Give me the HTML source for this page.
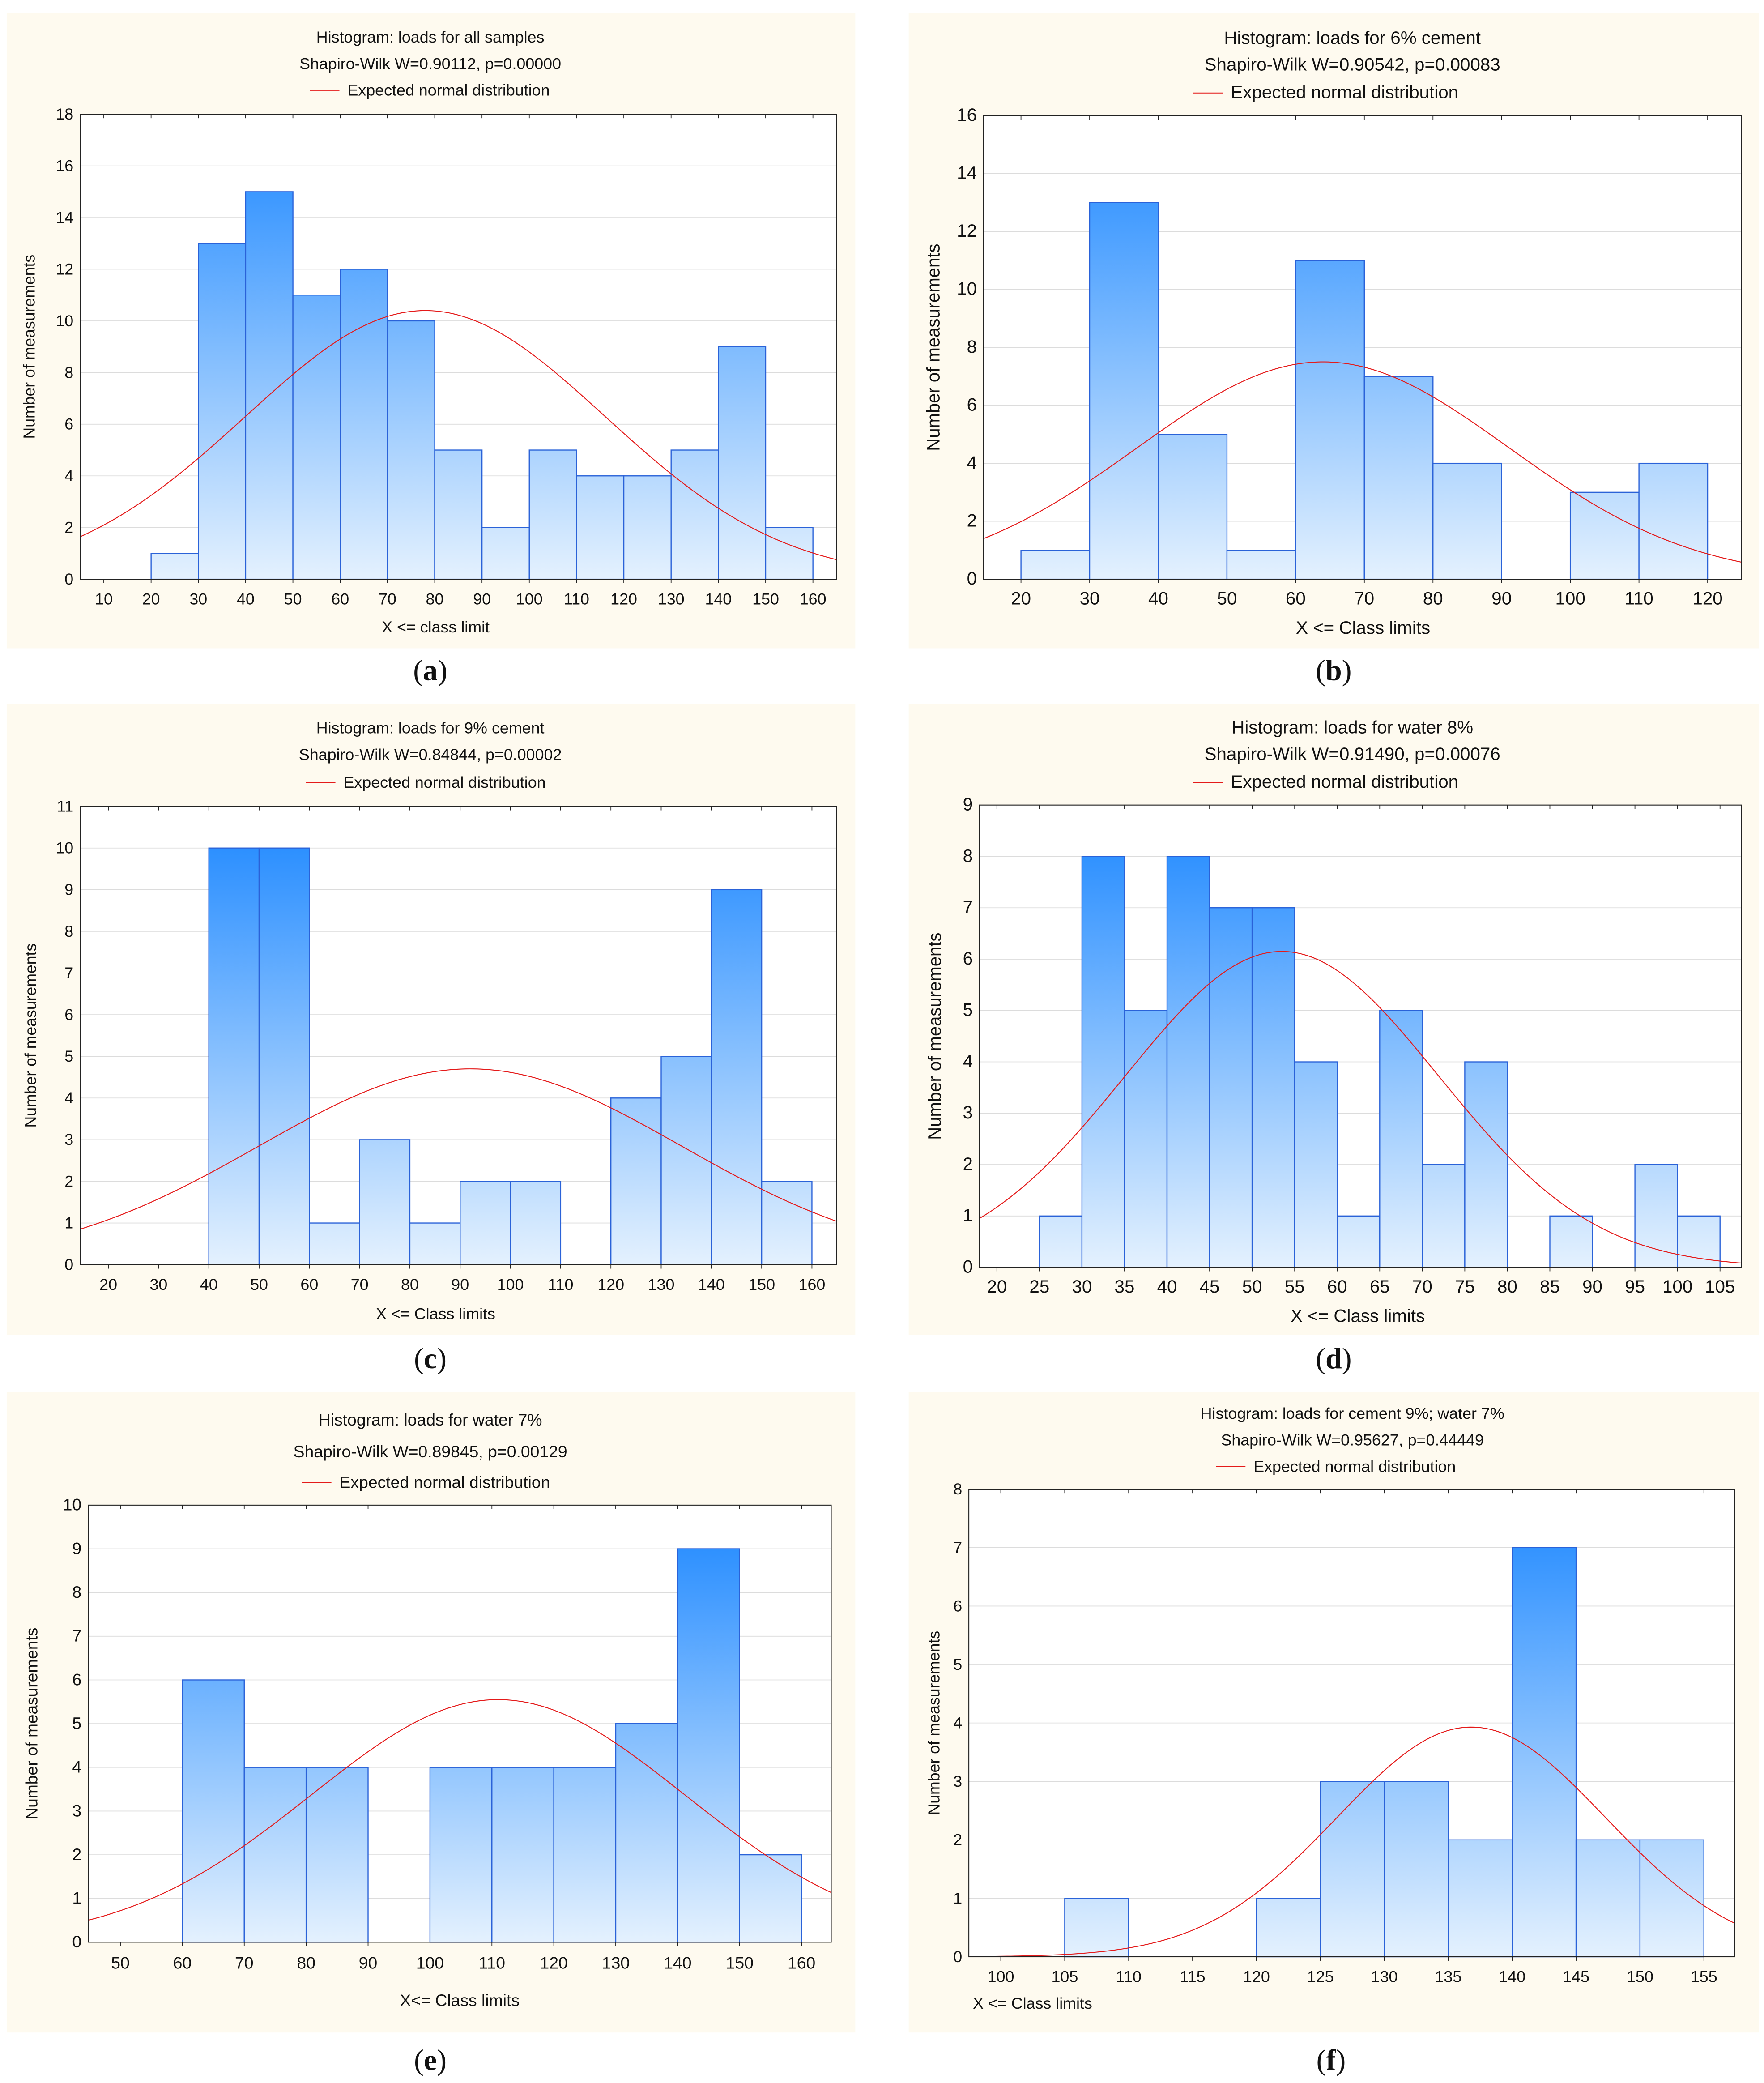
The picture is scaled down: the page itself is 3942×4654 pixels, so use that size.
<!DOCTYPE html>
<html><head><meta charset="utf-8"><style>
html,body{margin:0;padding:0;background:#fff;}
svg{display:block;}
text{font-family:"Liberation Sans",sans-serif;fill:#111;}
</style></head><body>
<svg id="fig" width="3942" height="4654" viewBox="0 0 1320 1568" preserveAspectRatio="none" xmlns="http://www.w3.org/2000/svg">
<defs>
<linearGradient id="g" x1="0" y1="0" x2="0" y2="1"><stop offset="0" stop-color="#1a86ff"/><stop offset="1" stop-color="#e4f1fe"/></linearGradient>
</defs>
</svg>
<script>
// Panel (a)
const binsA = [20,30,40,50,60,70,80,90,100,110,120,130,140,150];
const countsA = [1,13,15,11,12,10,5,2,5,4,4,5,9,2];
const xTicksA = [10,20,30,40,50,60,70,80,90,100,110,120,130,140,150,160];
const yTicksA = [0,2,4,6,8,10,12,14,16,18];
const normA = [78, 38, 10.4]; // mean, sd, peak
// Panel (b)
const binsB = [20,30,40,50,60,70,80,90,100,110];
const countsB = [1,13,5,1,11,7,4,0,3,4];
const xTicksB = [20,30,40,50,60,70,80,90,100,110,120];
const yTicksB = [0,2,4,6,8,10,12,14,16];
const normB = [64, 27, 7.5];
// Panel (c)
const binsC = [40,50,60,70,80,90,100,110,120,130,140,150];
const countsC = [10,10,1,3,1,2,2,0,4,5,9,2];
const xTicksC = [20,30,40,50,60,70,80,90,100,110,120,130,140,150,160];
const yTicksC = [0,1,2,3,4,5,6,7,8,9,10,11];
const normC = [92, 42, 4.7];
// Panel (d)
const binsD = [25,30,35,40,45,50,55,60,65,70,75,80,85,90,95,100];
const countsD = [1,8,5,8,7,7,4,1,5,2,4,0,1,0,2,1];
const xTicksD = [20,25,30,35,40,45,50,55,60,65,70,75,80,85,90,95,100,105];
const yTicksD = [0,1,2,3,4,5,6,7,8,9];
const normD = [53.5, 18.4, 6.15];
// Panel (e)
const binsE = [60,70,80,90,100,110,120,130,140,150];
const countsE = [6,4,4,0,4,4,4,5,9,2];
const xTicksE = [50,60,70,80,90,100,110,120,130,140,150,160];
const yTicksE = [0,1,2,3,4,5,6,7,8,9,10];
const normE = [111, 30.2, 5.55];
// Panel (f)
const binsF = [105,120,125,130,135,140,145,150];
const countsF = [1,1,3,3,2,7,2,2];
const xTicksF = [100,105,110,115,120,125,130,135,140,145,150,155];
const yTicksF = [0,1,2,3,4,5,6,7,8];
const normF = [136.8, 10.5, 3.93];

const NS = "http://www.w3.org/2000/svg";
const svg = document.getElementById('fig');
function mk(tag, attrs, parent){
  const e = document.createElementNS(NS, tag);
  for (const k in attrs) e.setAttribute(k, attrs[k]);
  (parent||svg).appendChild(e);
  return e;
}
function txt(s, x, y, size, anchor, parent){
  const t = mk('text', {x:x, y:y, 'font-size':size, 'text-anchor':anchor||'middle'}, parent);
  t.textContent = s;
  return t;
}

function drawPanel(id, L, bins, counts, binW, xTicks, yTicks, norm, titles, xlabel, caption){
  const g = mk('g', {});
  
  
  const bg = mk('rect', {x:L.bx, y:L.by, width:L.bw, height:L.bh, fill:'#fefaef'}, g);
  
  
  const pl = mk('rect', {x:L.px0, y:L.py0, width:L.px1-L.px0, height:L.py1-L.py0, fill:'#fff'}, g);
  
  
  const ymax = yTicks[yTicks.length-1];
  const xs = v => L.px0 + (v - L.d0)/(L.d1 - L.d0)*(L.px1-L.px0);
  const ys = v => L.py1 - v/ymax*(L.py1-L.py0);
  const gid = 'grad-' + id;
  const grad = mk('linearGradient', {id:gid, gradientUnits:'userSpaceOnUse', x1:0, y1:L.py0, x2:0, y2:L.py1}, svg.querySelector('defs'));
  mk('stop', {offset:0, 'stop-color':'#1a86ff'}, grad);
  mk('stop', {offset:1, 'stop-color':'#e4f1fe'}, grad);
  // grid + y ticks
  yTicks.forEach(v => {
    if (v > 0 && v < ymax) {
      const gl = mk('line', {x1:L.px0, x2:L.px1, y1:ys(v), y2:ys(v), stroke:'#dcdcdc', 'stroke-width':0.6}, g);
      
      
    }
    const t = txt(String(v), L.px0 - 5, ys(v) + 4, L.fs, 'end', g);
    
    
  });
  // bars
  bins.forEach((b, i) => {
    if (counts[i] <= 0) return;
    const r = mk('rect', {x:xs(b), y:ys(counts[i]), width:xs(b+binW)-xs(b), height:ys(0)-ys(counts[i]), fill:'url(#'+gid+')', stroke:'#2a62d8', 'stroke-width':0.8}, g);
    
    
  });
  // normal curve
  let d = '';
  const N = 200;
  for (let k = 0; k <= N; k++) {
    const v = L.d0 + (L.d1-L.d0)*k/N;
    const yv = norm[2]*Math.exp(-Math.pow(v-norm[0],2)/(2*norm[1]*norm[1]));
    d += (k ? 'L' : 'M') + xs(v).toFixed(2) + ',' + ys(yv).toFixed(2);
  }
  const c = mk('path', {d:d, fill:'none', stroke:'#e41a1a', 'stroke-width':0.7}, g);
  
  
  // frame
  const fr = mk('rect', {x:L.px0, y:L.py0, width:L.px1-L.px0, height:L.py1-L.py0, fill:'none', stroke:'#222', 'stroke-width':0.7}, g);
  
  
  // x ticks
  xTicks.forEach(v => {
    const tk = mk('line', {x1:xs(v), x2:xs(v), y1:L.py1, y2:L.py1+3, stroke:'#222', 'stroke-width':0.6}, g);
    
    
    const tk2 = mk('line', {x1:xs(v), x2:xs(v), y1:L.py0, y2:L.py0+3, stroke:'#222', 'stroke-width':0.6}, g);
    
    
    const t = txt(String(v), xs(v), L.xty, L.fs, 'middle', g);
    
    
  });
  // titles
  const t1 = txt(titles[0], L.tx, L.ty[0], L.fs, 'middle', g);
  
  
  const t2 = txt(titles[1], L.tx, L.ty[1], L.fs, 'middle', g);
  
  
  const lg = mk('line', {x1:L.lx, x2:L.lx+22, y1:L.ty[2]-4, y2:L.ty[2]-4, stroke:'#e41a1a', 'stroke-width':0.7}, g);
  
  
  const t3 = txt('Expected normal distribution', L.lx+28, L.ty[2], L.fs, 'start', g);
  
  
  // x label
  const xl = txt(xlabel, L.xlx, L.xly, L.fs, L.xla || 'middle', g);
  
  
  // y label
  const yc = (L.py0+L.py1)/2;
  const yl = txt('Number of measurements', 0, 0, L.fs, 'middle', g);
  yl.setAttribute('transform', 'translate(' + L.ylx + ',' + yc + ') rotate(-90)');
  
  
  // caption
  const cap = mk('text', {x:L.capx, y:L.capy, 'font-size':22, 'text-anchor':'middle', style:'font-family:"Liberation Serif",serif'}, g);
  cap.innerHTML = '(<tspan font-weight="bold">' + caption + '</tspan>)';
  
  
}

drawPanel('a', {bx:5,by:10,bw:635,bh:478,px0:60,px1:626,py0:86,py1:436,d0:5,d1:165,fs:12,xty:455,tx:322,ty:[32,52,72],lx:232,xlx:326,xly:476,ylx:26,capx:322,capy:512},
  binsA, countsA, 10, xTicksA, yTicksA, normA, ['Histogram:  loads for all samples','Shapiro-Wilk W=0.90112, p=0.00000'], 'X <= class limit', 'a');
drawPanel('b', {bx:680,by:10,bw:636,bh:478,px0:736,px1:1303,py0:87,py1:436,d0:14.55,d1:124.9,fs:13.5,xty:455,tx:1012,ty:[33,53,74],lx:893,xlx:1020,xly:477,ylx:703,capx:998,capy:512},
  binsB, countsB, 10, xTicksB, yTicksB, normB, ['Histogram: loads for 6% cement','Shapiro-Wilk W=0.90542, p=0.00083'], 'X <= Class limits', 'b');
drawPanel('c', {bx:5,by:530,bw:635,bh:475,px0:60,px1:626,py0:607,py1:952,d0:14.4,d1:164.9,fs:12,xty:971,tx:322,ty:[552,572,593],lx:229,xlx:326,xly:993,ylx:27,capx:322,capy:1030},
  binsC, countsC, 10, xTicksC, yTicksC, normC, ['Histogram:  loads for 9% cement','Shapiro-Wilk W=0.84844,  p=0.00002'], 'X <= Class limits', 'c');
drawPanel('d', {bx:680,by:530,bw:636,bh:475,px0:733,px1:1303,py0:606,py1:954,d0:17.96,d1:107.5,fs:13.5,xty:973,tx:1012,ty:[552,572,593],lx:893,xlx:1016,xly:995,ylx:704,capx:998,capy:1030},
  binsD, countsD, 5, xTicksD, yTicksD, normD, ['Histogram: loads for water 8%','Shapiro-Wilk W=0.91490, p=0.00076'], 'X <= Class limits', 'd');
drawPanel('e', {bx:5,by:1048,bw:635,bh:482,px0:66,px1:622,py0:1133,py1:1462,d0:44.8,d1:164.8,fs:12.5,xty:1482,tx:322,ty:[1073,1097,1120],lx:226,xlx:344,xly:1510,ylx:28,capx:322,capy:1558},
  binsE, countsE, 10, xTicksE, yTicksE, normE, ['Histogram: loads for water 7%','Shapiro-Wilk W=0.89845, p=0.00129'], 'X<= Class limits', 'e');
drawPanel('f', {bx:680,by:1048,bw:636,bh:482,px0:725,px1:1298,py0:1121,py1:1473,d0:97.5,d1:157.4,fs:12,xty:1492,tx:1012,ty:[1068,1088,1108],lx:910,xlx:728,xly:1512,xla:'start',ylx:703,capx:996,capy:1558},
  binsF, countsF, 5, xTicksF, yTicksF, normF, ['Histogram:  loads for cement 9%;  water 7%','Shapiro-Wilk W=0.95627,  p=0.44449'], 'X <= Class limits', 'f');
</script>
</body></html>
